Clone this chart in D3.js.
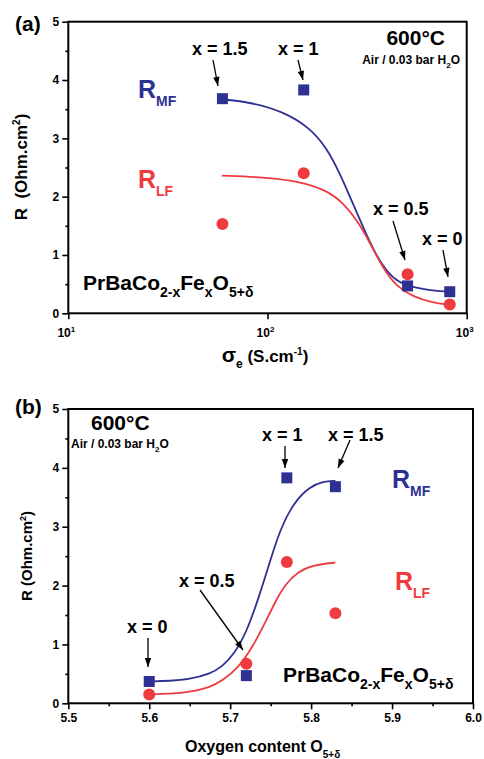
<!DOCTYPE html>
<html><head><meta charset="utf-8">
<script src="https://cdn.jsdelivr.net/npm/d3@7"></script>
<style>body{margin:0;background:#fff}svg{display:block}text{font-family:Arial,"Liberation Sans",sans-serif}</style>
</head><body><svg id="c" width="484" height="759"></svg>
<script>
// ---------- data ----------
const labelsX = ["x = 0", "x = 0.5", "x = 1", "x = 1.5"];
const sigmaE = [822, 505, 152, 59.4];           // S.cm-1
const oxygen = [5.60, 5.72, 5.77, 5.83];        // O5+d
const rMF = [0.37, 0.47, 3.83, 3.68];
const rLF = [0.15, 0.67, 2.40, 1.53];
// fitted guide curves
const fitA_MF_x = [59, 82, 120, 163, 198, 231, 270, 315, 367, 428, 500, 630, 810];
const fitA_MF_y = [3.67, 3.62, 3.46, 3.18, 2.84, 2.40, 1.86, 1.33, 0.87, 0.59, 0.47, 0.40, 0.37];
const fitA_LF_x = [59, 99, 146, 198, 240, 280, 327, 381, 445, 540, 679, 810];
const fitA_LF_y = [2.36, 2.33, 2.26, 2.11, 1.89, 1.61, 1.21, 0.76, 0.46, 0.28, 0.18, 0.15];
const fitB_MF_x = [5.60, 5.625, 5.65, 5.675, 5.69, 5.705, 5.72, 5.735, 5.75, 5.762, 5.778, 5.798, 5.815, 5.83];
const fitB_MF_y = [0.37, 0.38, 0.41, 0.50, 0.62, 0.84, 1.20, 1.78, 2.45, 2.96, 3.40, 3.68, 3.77, 3.78];
const fitB_LF_x = [5.60, 5.625, 5.65, 5.675, 5.69, 5.71, 5.728, 5.745, 5.757, 5.768, 5.784, 5.803, 5.83];
const fitB_LF_y = [0.15, 0.16, 0.19, 0.27, 0.38, 0.60, 0.96, 1.42, 1.76, 2.02, 2.24, 2.35, 2.39];
const yTicks = [0, 1, 2, 3, 4, 5];
const xTicksA = [10, 100, 1000];
const xTicksB = [5.5, 5.6, 5.7, 5.8, 5.9, 6.0];

const BLUE = "#2e3192", RED = "#ef3b40";
const svg = d3.select("#c");

function rich(g, x, y, parts, anchor, weight, color) {
  const t = g.append("text").attr("x", x).attr("y", y).attr("font-weight", weight || "bold")
    .attr("fill", color || "#000").attr("text-anchor", anchor || "start");
  let shift = 0;
  parts.forEach(p => {
    const target = p.dy || 0;
    t.append("tspan").attr("dy", target - shift).attr("font-size", p.s).text(p.t);
    shift = target;
  });
  return t;
}
function arrow(g, x1, y1, x2, y2) {
  g.append("line").attr("x1", x1).attr("y1", y1).attr("x2", x2).attr("y2", y2)
    .attr("stroke", "#000").attr("stroke-width", 1.3);
  const a = Math.atan2(y2 - y1, x2 - x1), L = 9, w = 3.2;
  const bx = x2 - L * Math.cos(a), by = y2 - L * Math.sin(a);
  g.append("path").attr("d", `M${x2},${y2}L${bx + w * Math.sin(a)},${by - w * Math.cos(a)}L${bx - w * Math.sin(a)},${by + w * Math.cos(a)}Z`).attr("fill", "#000");
}

function panel(opts) {
  const g = svg.append("g");
  const { x, y, left, top, right, bottom } = opts;
  x.range([left, right]); y.range([bottom, top]);
  const ya = g.append("g").attr("transform", `translate(${left},0)`)
    .call(d3.axisLeft(y).tickValues(yTicks).tickSize(6).tickPadding(3).tickFormat(d3.format("d")));
  ya.append("g").call(d3.axisLeft(y).tickValues(d3.range(0.5, 5, 1)).tickSize(3).tickFormat(""));
  g.selectAll(".tick text").attr("font-size", 12).attr("font-weight", "bold").attr("fill", "#000")
    .style("font-family", "Arial,'Liberation Sans',sans-serif");
  g.selectAll(".domain").remove();
  g.selectAll(".tick line").attr("stroke", "#000").attr("stroke-width", 1.6);
  const xa = g.append("g").attr("transform", `translate(0,${bottom})`);
  opts.xAxis(xa);
  xa.selectAll(".domain").remove();
  xa.selectAll(".tick line").attr("stroke", "#000").attr("stroke-width", 1.6);
  g.append("rect").attr("x", left).attr("y", top).attr("width", right - left).attr("height", bottom - top)
    .attr("fill", "none").attr("stroke", "#000").attr("stroke-width", 2);
  const line = d3.line().x(d => x(d[0])).y(d => y(d[1])).curve(d3.curveBasis);
  g.append("path").attr("d", line(opts.fMFx.map((v, i) => [v, opts.fMFy[i]]))).attr("fill", "none").attr("stroke", BLUE).attr("stroke-width", 1.8);
  g.append("path").attr("d", line(opts.fLFx.map((v, i) => [v, opts.fLFy[i]]))).attr("fill", "none").attr("stroke", RED).attr("stroke-width", 1.8);
  g.selectAll(".sq").data(opts.xs).join("rect").attr("x", d => x(d) - 5.5).attr("y", (d, i) => y(rMF[i]) - 5.5)
    .attr("width", 11).attr("height", 11).attr("fill", BLUE);
  g.selectAll(".ci").data(opts.xs).join("circle").attr("cx", d => x(d)).attr("cy", (d, i) => y(rLF[i])).attr("r", 6).attr("fill", RED);
  return g;
}

// ---------- panel (a) ----------
const xA = d3.scaleLog().domain([10, 1000]);
const yA = d3.scaleLinear().domain([0, 5]);
panel({
  x: xA, y: yA, left: 68.3, top: 21.7, right: 466.7, bottom: 313.3, xs: sigmaE,
  fMFx: fitA_MF_x, fMFy: fitA_MF_y, fLFx: fitA_LF_x, fLFy: fitA_LF_y,
  xAxis: a => {
    a.call(d3.axisBottom(xA).tickValues(xTicksA).tickSize(6).tickFormat(""));
    xTicksA.forEach(v => rich(a, xA(v) - 2, 24, [{ t: "10", s: 12 }, { t: String(Math.round(Math.log10(v))), s: 8, dy: -5 }], "middle"));
  }
});
rich(svg, 15, 31, [{ t: "(a)", s: 21 }]);
svg.append("text").attr("transform", "translate(27,167) rotate(-90)").attr("text-anchor", "middle")
  .attr("font-weight", "bold").attr("font-size", 17)
  .html('R&#160;&#160;(Ohm.cm<tspan font-size="10" dy="-7">2</tspan><tspan dy="7">)</tspan>');
rich(svg, 265, 362, [{ t: "σ", s: 21 }, { t: "e", s: 12, dy: 6 }, { t: " (S.cm", s: 17 }, { t: "-1", s: 10, dy: -7 }, { t: ")", s: 17 }], "middle");
rich(svg, 445, 45, [{ t: "600°C", s: 21 }], "end");
rich(svg, 460, 64, [{ t: "Air / 0.03 bar H", s: 12 }, { t: "2", s: 8, dy: 4 }, { t: "O", s: 12 }], "end");
rich(svg, 138, 98, [{ t: "R", s: 25 }, { t: "MF", s: 14, dy: 8 }], "start", "bold", BLUE);
rich(svg, 138, 188, [{ t: "R", s: 25 }, { t: "LF", s: 14, dy: 8 }], "start", "bold", RED);
rich(svg, 83, 290, [{ t: "PrBaCo", s: 21 }, { t: "2-x", s: 14, dy: 7 }, { t: "Fe", s: 21 }, { t: "x", s: 14, dy: 7 }, { t: "O", s: 21 }, { t: "5+δ", s: 14, dy: 7 }]);
rich(svg, 192, 55, [{ t: labelsX[3], s: 18 }]);
rich(svg, 278, 55, [{ t: labelsX[2], s: 18 }]);
rich(svg, 373, 215, [{ t: labelsX[1], s: 18 }]);
rich(svg, 422, 245, [{ t: labelsX[0], s: 18 }]);
arrow(svg, 213, 60, 218, 86);
arrow(svg, 298, 60, 303, 80);
arrow(svg, 393, 221, 405, 260);
arrow(svg, 443, 250, 448, 277);

// ---------- panel (b) ----------
const xB = d3.scaleLinear().domain([5.5, 6.0]);
const yB = d3.scaleLinear().domain([0, 5]);
panel({
  x: xB, y: yB, left: 68.3, top: 409, right: 473, bottom: 703.3, xs: oxygen,
  fMFx: fitB_MF_x, fMFy: fitB_MF_y, fLFx: fitB_LF_x, fLFy: fitB_LF_y,
  xAxis: a => {
    a.call(d3.axisBottom(xB).tickValues(xTicksB).tickSize(6).tickPadding(4).tickFormat(d3.format(".1f")));
    a.append("g").call(d3.axisBottom(xB).tickValues(d3.range(5.55, 6.0, 0.1)).tickSize(3).tickFormat(""));
    a.selectAll(".tick text").attr("font-size", 12).attr("font-weight", "bold").attr("fill", "#000")
      .style("font-family", "Arial,'Liberation Sans',sans-serif");
  }
});
rich(svg, 15, 414, [{ t: "(b)", s: 21 }]);
svg.append("text").attr("transform", "translate(32,556) rotate(-90)").attr("text-anchor", "middle")
  .attr("font-weight", "bold").attr("font-size", 15)
  .html('R (Ohm.cm<tspan font-size="9" dy="-6">2</tspan><tspan dy="6">)</tspan>');
rich(svg, 185, 752, [{ t: "Oxygen content O", s: 16 }, { t: "5+δ", s: 10, dy: 6 }]);
rich(svg, 91, 430, [{ t: "600°C", s: 21 }]);
rich(svg, 71, 448, [{ t: "Air / 0.03 bar H", s: 12 }, { t: "2", s: 8, dy: 4 }, { t: "O", s: 12 }]);
rich(svg, 392, 488, [{ t: "R", s: 25 }, { t: "MF", s: 14, dy: 8 }], "start", "bold", BLUE);
rich(svg, 395, 590, [{ t: "R", s: 25 }, { t: "LF", s: 14, dy: 8 }], "start", "bold", RED);
rich(svg, 283, 682, [{ t: "PrBaCo", s: 21 }, { t: "2-x", s: 14, dy: 7 }, { t: "Fe", s: 21 }, { t: "x", s: 14, dy: 7 }, { t: "O", s: 21 }, { t: "5+δ", s: 14, dy: 7 }]);
rich(svg, 262, 441, [{ t: labelsX[2], s: 18 }]);
rich(svg, 328, 441, [{ t: labelsX[3], s: 18 }]);
rich(svg, 179, 587, [{ t: labelsX[1], s: 18 }]);
rich(svg, 127, 633, [{ t: labelsX[0], s: 18 }]);
arrow(svg, 285, 446, 285, 468);
arrow(svg, 350, 440, 338, 468);
arrow(svg, 200, 590, 243, 650);
arrow(svg, 148, 638, 148, 667);
</script></body></html>
